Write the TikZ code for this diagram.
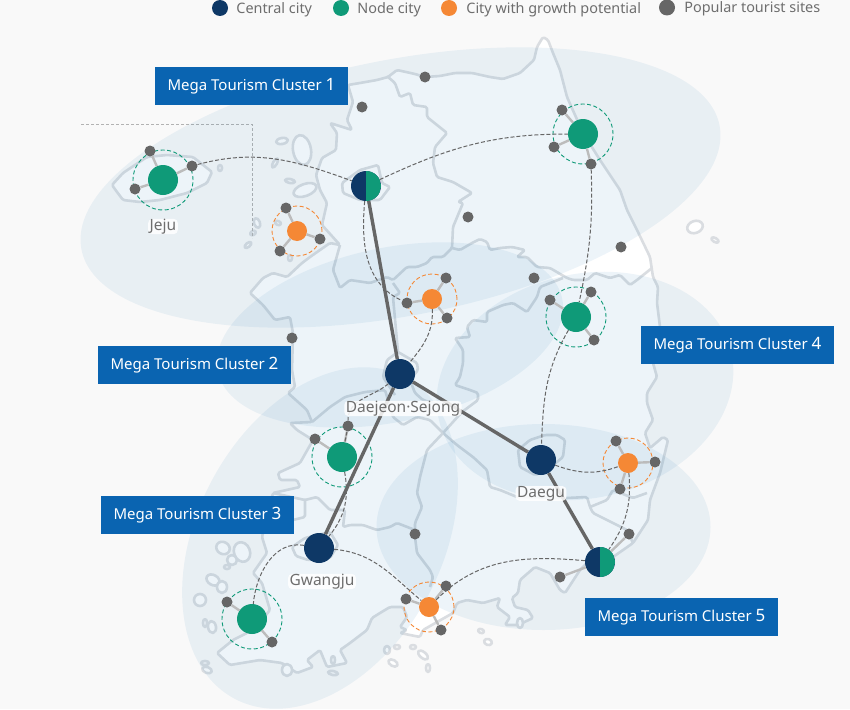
\documentclass[tikz,border=0pt]{standalone}
\usepackage{fontspec}
\setmainfont{Noto Sans}
\usetikzlibrary{positioning}
\definecolor{bgcol}{HTML}{F9F9F9}
\definecolor{navycol}{HTML}{0E3866}
\definecolor{greencol}{HTML}{0F9A78}
\definecolor{orangecol}{HTML}{F58835}
\definecolor{sitecol}{HTML}{666666}
\definecolor{boxcol}{HTML}{0A64B1}
\definecolor{clustercol}{HTML}{0B6EB0}
\definecolor{textcol}{HTML}{6E6E6E}
\definecolor{landcol}{HTML}{DADDE1}
\definecolor{spokecol}{HTML}{BCBCBC}

\begin{document}
\begin{tikzpicture}[x=1pt,y=-1pt,font=\fontsize{14.4}{16}\selectfont]
    \tikzstyle{city}=[circle,inner sep=0pt]
    \tikzstyle{central city}=[city,fill=navycol,minimum size=30pt]
    \tikzstyle{node city}=[city,fill=greencol,minimum size=30pt]
    \tikzstyle{growth city}=[city,fill=orangecol,minimum size=20pt]
    \tikzstyle{half city}=[city,fill=navycol,minimum size=30pt,path picture={\fill[greencol] (path picture bounding box.north) rectangle (path picture bounding box.south east);}]
    \tikzstyle{site}=[circle,fill=sitecol,minimum size=11pt,inner sep=0pt]
    \tikzstyle{green ring}=[circle,draw=greencol,dash pattern=on 4pt off 2.5pt,line width=.9pt,minimum size=60pt,inner sep=0pt]
    \tikzstyle{orange ring}=[circle,draw=orangecol,dash pattern=on 4pt off 2.5pt,line width=.9pt,minimum size=50pt,inner sep=0pt]
    \tikzstyle{spoke}=[draw=spokecol,line width=2.4pt]
    \tikzstyle{trunk}=[draw=sitecol,line width=3.4pt]
    \tikzstyle{link}=[draw=sitecol,line width=1pt,dash pattern=on 4pt off 2pt]
    \tikzstyle{land}=[draw=landcol,line width=2.6pt,line join=round,fill=white,rounded corners=1.5pt]
    \tikzstyle{border}=[draw=landcol,line width=2.6pt,line join=round,rounded corners=1.5pt]
    \tikzstyle{cluster}=[fill=clustercol,fill opacity=.07]
    \tikzstyle{cluster box}=[fill=boxcol,text=white,minimum width=193pt,minimum height=38pt,inner sep=0pt,font=\fontsize{15}{16}\selectfont]
    \tikzstyle{legend dot}=[circle,minimum size=16pt,inner sep=0pt]
    \tikzstyle{legend text}=[text=textcol,inner sep=0pt,yshift=-2pt]
    \tikzstyle{city label}=[text=textcol,fill=white,fill opacity=.85,text opacity=1,rounded corners=4pt,inner xsep=1.5pt,inner ysep=0pt,font=\fontsize{15.5}{17}\selectfont]

    \fill[bgcol] (0,0) rectangle (850,709);
    \useasboundingbox (0,0) rectangle (850,709);

% Map
    \draw[land] (543,37) -- (548,40) -- (553,53) -- (560,70) -- (567,97) -- (583,133) -- (600,160) -- (620,190) -- (627,210) -- (637,230) -- (650,257) -- (653,277) -- (658,287) -- (657,303) -- (660,327) -- (653,363) -- (657,377) -- (647,393) -- (647,403) -- (653,420) -- (645,433) -- (650,448) -- (663,437) -- (668,440) -- (660,473) -- (650,500) -- (648,520) -- (633,543) -- (613,557) -- (587,563) -- (580,570) -- (565,593) -- (560,590) -- (550,573) -- (535,567) -- (520,580) -- (518,593) -- (512,598) -- (515,607) -- (528,610) -- (533,618) -- (518,625) -- (505,625) -- (510,617) -- (497,607) -- (500,598) -- (483,603) -- (467,600) -- (457,603) -- (453,613) -- (423,630) -- (420,637) -- (400,633) -- (407,630) -- (400,627) -- (407,617) -- (403,607) -- (390,607) -- (380,613) -- (372,618) -- (367,630) -- (350,643) -- (340,650) -- (347,663) -- (327,667) -- (320,650) -- (307,660) -- (313,667) -- (297,673) -- (282,663) -- (260,660) -- (230,665) -- (217,653) -- (233,640) -- (247,633) -- (262,620) -- (270,610) -- (262,583) -- (253,573) -- (267,553) -- (262,537) -- (273,493) -- (300,487) -- (297,480) -- (280,480) -- (278,473) -- (300,463) -- (313,440) -- (297,430) -- (290,423) -- (312,422) -- (307,410) -- (288,393) -- (295,387) -- (292,370) -- (293,333) -- (290,317) -- (275,320) -- (263,305) -- (250,293) -- (263,278) -- (273,273) -- (287,277) -- (302,263) -- (310,257) -- (330,243) -- (340,245) -- (322,225) -- (327,203) -- (320,190) -- (316,175) -- (322,158) -- (336,150) -- (337,133) -- (330,123) -- (352,130) -- (347,120) -- (353,102) -- (348,85) -- (360,83) -- (377,80) -- (388,77) -- (397,70) -- (415,74) -- (425,77) -- (440,76) -- (455,73) -- (472,73) -- (490,77) -- (503,79) -- (520,73) -- (534,60) -- (537,47) -- cycle;

    % Jeju
    \draw[land] (112,185) -- (123,173) -- (147,157) -- (167,155) -- (193,157) -- (212,172) -- (207,183) -- (187,193) -- (160,200) -- (140,202) -- (123,200) -- (117,192) -- cycle;

    % Provinces
    \draw[border] (388,77) -- (395,83) -- (400,97) -- (410,93) -- (413,105) -- (427,107) -- (427,117) -- (447,133) -- (435,147) -- (433,163) -- (437,177) -- (453,182) -- (472,193) -- (458,202) -- (463,203) -- (453,227) -- (452,248) -- (443,257) -- (432,257) -- (427,263) -- (417,267) -- (407,267) -- (393,280) -- (387,277) -- (370,283) -- (350,280) -- (340,288) -- (333,270) -- (340,245);
    \draw[border] (452,248) -- (460,250) -- (472,243) -- (480,239) -- (487,242) -- (490,250) -- (500,248) -- (512,247) -- (525,250) -- (517,257) -- (527,257) -- (537,267) -- (550,268) -- (567,278) -- (573,280) -- (587,280) -- (595,273) -- (610,278) -- (620,275) -- (630,285) -- (637,280) -- (652,268);
    \draw[border] (563,278) -- (540,287) -- (537,297) -- (527,312) -- (513,303) -- (503,305) -- (487,312) -- (487,322) -- (473,320) -- (467,327) -- (470,337) -- (455,338) -- (463,350) -- (463,363) -- (460,377) -- (455,385) -- (470,390) -- (478,393) -- (478,400) -- (462,412) -- (443,433) -- (457,445) -- (473,457) -- (487,470) -- (490,487) -- (500,490) -- (517,497) -- (567,498) -- (587,497) -- (590,507) -- (593,513) -- (613,523) -- (627,530) -- (633,543);
    \draw[border] (590,507) -- (607,500) -- (613,490) -- (633,498) -- (647,493);
    \draw[border] (393,283) -- (400,293) -- (393,297) -- (396,330) -- (398,352) -- (387,360) -- (383,377) -- (395,395);
    \draw[border] (398,352) -- (417,363) -- (418,370) -- (410,380) -- (415,393) -- (423,400) -- (440,405);
    \draw[border] (312,422) -- (330,407) -- (345,397) -- (365,392) -- (385,390) -- (393,417) -- (403,425) -- (417,417) -- (430,420) -- (443,433);
    \draw[border] (443,433) -- (427,450) -- (420,477) -- (417,493) -- (422,507) -- (415,523) -- (415,537) -- (417,553) -- (430,570) -- (433,577) -- (430,587);
    \draw[border] (273,493) -- (305,500) -- (317,497) -- (330,510) -- (345,510) -- (343,527) -- (350,525) -- (363,525) -- (377,530) -- (390,527) -- (397,523) -- (415,530);
    \draw[border] (305,500) -- (305,517) -- (293,520);
    % Seoul, Daegu and Gwangju
    \draw[border] (378,165) -- (360,170) -- (342,183) -- (343,193) -- (360,200) -- (380,200) -- (390,187) -- (382,183) -- cycle;
    \draw[border] (520,467) -- (518,450) -- (530,440) -- (545,435) -- (557,435) -- (565,440) -- (563,457) -- (547,470) -- (535,475) -- cycle;
    \draw[border] (305,538) -- (292,547) -- (296,556) -- (308,560) -- (330,558) -- (338,545) -- (330,532) -- cycle;

    % Islands
    \foreach \x/\y/\a/\b/\r in {220/168/2/3/0, 282/141/6/3/10, 302/150/9/15/10, 275/163/2/5/-30, 290/181/5/2/-10, 305/190/12/6/20, 257/223/3/5/20, 253/233/3/2/30, 248/245/4/2/40, 278/223/3/2/-20, 290/258/2/3/0, 695/227/8/6/20, 715/240/4/2/-30, 223/548/7/6/-30, 232/560/5/5/0, 242/552/8/10/20, 227/567/3/2/0, 213/580/7/5/-30, 222/587/5/6/0, 200/600/6/6/0, 212/627/4/6/10, 205/623/2/4/0, 205/663/4/2/0, 207/670/5/3/-20, 287/670/5/6/0, 333/660/2/4/0, 387/650/3/4/0, 393/663/5/3/-30, 397/647/3/2/0, 333/673/5/2/-10, 413/647/3/2/0, 423/655/6/3/-40, 428/668/2/4/0, 481/631/3/2/-20, 488/642/4/3/-20, 520/623/3/5/0}
        \draw[land,shift={(\x,\y)},rotate=\r] (0,0) ellipse [x radius=\a, y radius=\b];

    % Inset line of Jeju
    \draw[draw=black!30,line width=.8pt,dash pattern=on 3pt off 2pt] (81,124) -- (252,124) -- (252,238);

% Clusters
    \foreach \x/\y/\a/\b/\r in {400.5/187.5/325/128/11, 390/335/176/87/12, 320/538/182/122.5/62, 585/386/150/112/13, 543.5/527/167/103/0}
        \fill[cluster,shift={(\x,\y)},rotate=\r] (0,0) ellipse [x radius=\a, y radius=\b];

% Nodes
    % Central cities
    \foreach \name/\x/\y in {Daejeon/400/374, Daegu/541/460, Gwangju/319/548}
        \node[central city] (\name) at (\x,\y) {};
    \node[half city] (Seoul) at (366,186) {};
    \node[half city] (Busan) at (600,562) {};

    % Node cities
    \foreach \name/\x/\y in {Jeju/163/180, Gangneung/583/134, Andong/576/317, Jeonju/342/457, Mokpo/252/619}
    {
        \node[node city] (\name) at (\x,\y) {};
        \node[green ring] (R-\name) at (\x,\y) {};
    }

    % Cities with growth potential
    \foreach \name/\x/\y in {Muan/297/231, Chungju/432/299, Pohang/628/463, Suncheon/429/607}
    {
        \node[growth city] (\name) at (\x,\y) {};
        \node[orange ring] (R-\name) at (\x,\y) {};
    }

    % Tourist sites next to a city
    \foreach \name/\x/\y/\city in {J1/150/151/Jeju, J2/192/166/Jeju, J3/135/189/Jeju, M1/286/208/Muan, M2/320/239/Muan, M3/280/251/Muan, G1/562/110/Gangneung, G2/554/147/Gangneung, G3/591/164/Gangneung, C1/446/278/Chungju, C2/407/303/Chungju, C3/447/318/Chungju, A1/550/300/Andong, A2/591/292/Andong, A3/594/340/Andong, E1/315/439/Jeonju, E2/348/426/Jeonju, P1/616/441/Pohang, P2/655/462/Pohang, P3/620/489/Pohang, K1/227/602/Mokpo, K2/272/642/Mokpo, U1/406/599/Suncheon, U2/446/586/Suncheon, U3/441/630/Suncheon, B1/560/577/Busan, B2/629/534/Busan}
    {
        \node[site] (S-\name) at (\x,\y) {};
        \path[spoke] (\city) edge (S-\name);
    }

    % Tourist sites alone
    \foreach \name/\x/\y in {1/425/77, 2/362/107, 3/468/217, 4/621/247, 5/534/278, 6/292/338, 7/415/534}
        \node[site] (T-\name) at (\x,\y) {};

% Paths
    % Dashed links
    \path[link] (S-J2) to[out=15,in=160] (Seoul);
    \path[link] (Seoul) to[out=25,in=180] (Gangneung);
    \path[link] (Seoul) to[out=-95,in=155] (S-C2);
    \path[link] (S-G3) to[out=-88,in=78] (Andong);
    \path[link] (Chungju) to[out=-88,in=50] (Daejeon);
    \path[link] (Daejeon) to[out=-140,in=90] (S-E2);
    \path[link] (S-E2) -- (Jeonju);
    \path[link] (Jeonju) to[out=-80,in=50] (Gwangju);
    \path[link] (Andong) to[out=-120,in=88] (Daegu);
    \path[link] (Daegu) to[out=-20,in=-160] (Pohang);
    \path[link] (Pohang) to[out=-85,in=55] (Busan);
    \path[link] (Gwangju) to[out=170,in=85] (Mokpo);
    \path[link] (Gwangju) to[out=-5,in=140] (Suncheon);
    \path[link] (Suncheon) to[out=45,in=175] (Busan);

    % Links between the central cities
    \foreach \source/\dest in {Seoul/Daejeon, Daejeon/Gwangju, Daejeon/Daegu, Daegu/Busan}
        \path[trunk] (\source) edge (\dest);

% Labels
    \node[city label] (l-jeju) at (163,226.5) {Jeju};
    \node[city label] (l-daejeon) at (403,408.5) {Daejeon·Sejong};
    \node[city label] (l-daegu) at (541,493.5) {Daegu};
    \node[city label] (l-gwangju) at (322,581.5) {Gwangju};

    \foreach \name/\x/\y/\n in {1/251.5/86/1, 2/194.5/365/2, 3/197.5/515/3, 4/737.5/345/4, 5/681.5/617/5}
        \node[cluster box] (box-\name) at (\x,\y) {Mega Tourism Cluster {\fontsize{17}{16}\selectfont\n}};

% Legend
    \node[legend dot,fill=navycol] (L-1) at (220,8) {};
    \node[legend text,right=8pt of L-1] {Central city};
    \node[legend dot,fill=greencol] (L-2) at (341,8) {};
    \node[legend text,right=8pt of L-2] {Node city};
    \node[legend dot,fill=orangecol] (L-3) at (449,8) {};
    \node[legend text,right=9pt of L-3] {City with growth potential};
    \node[legend dot,fill=sitecol] (L-4) at (667,7.5) {};
    \node[legend text,right=9pt of L-4,yshift=1pt] {Popular tourist sites};
\end{tikzpicture}
\end{document}
